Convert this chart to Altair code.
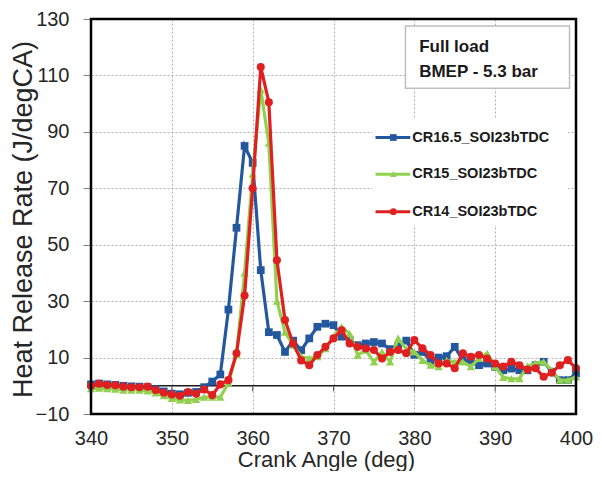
import altair as alt
import pandas as pd

# ---------------- data ----------------
crank_angle = list(range(340, 401))

cr165 = [0.5, 0.8, 0.5, 0.3, 0.0, -0.2, -0.3, -0.5, -1.2, -2.0,
         -2.8, -3.0, -2.5, -2.2, -0.5, 1.5, 4.0, 27.0, 56.0, 85.0,
         79.0, 41.0, 19.0, 18.0, 12.0, 16.0, 12.6, 16.8, 20.9, 22.0,
         21.5, 17.4, 16.2, 14.4, 15.0, 15.5, 15.0, 13.0, 14.0, 16.0,
         11.0, 12.0, 9.0, 10.0, 10.5, 13.8, 9.0, 8.5, 7.3, 7.9,
         6.7, 5.5, 6.1, 5.5, 5.5, 7.3, 8.5, 5.0, 2.0, 2.0, 4.4]

cr15 = [-1.0, -0.8, -1.0, -1.2, -1.5, -1.5, -1.5, -1.8, -2.5, -3.5,
        -4.5, -5.0, -5.2, -4.8, -4.0, -4.0, -4.0, 1.0, 11.0, 40.0,
        75.0, 105.0, 86.0, 30.0, 19.0, 14.4, 10.3, 9.7, 10.3, 13.2,
        17.3, 20.9, 18.5, 10.9, 12.6, 8.5, 12.0, 8.5, 16.8, 13.0,
        12.0, 9.0, 7.3, 6.8, 9.0, 8.5, 8.5, 6.8, 9.7, 11.5,
        6.8, 3.0, 2.5, 2.5, 7.0, 8.0, 8.5, 5.5, 2.0, 2.0, 3.2]

cr14 = [0.0, 0.7, 0.3, 0.2, -0.3, -0.5, -0.5, -0.3, -1.5, -2.5,
        -3.1, -3.5, -2.2, -2.8, -1.3, -3.3, 0.5, 2.0, 11.5, 32.0,
        70.0, 113.0, 100.5, 44.5, 23.3, 15.0, 9.0, 7.3, 10.9, 13.8,
        16.8, 19.7, 15.0, 13.8, 13.2, 12.7, 9.7, 12.0, 12.7, 11.5,
        16.2, 13.3, 10.9, 7.9, 7.9, 6.2, 11.5, 10.3, 10.9, 9.7,
        7.9, 6.8, 8.5, 7.3, 5.8, 6.2, 3.2, 4.6, 7.3, 9.1, 6.2]

series_names = ["CR16.5_SOI23bTDC", "CR15_SOI23bTDC", "CR14_SOI23bTDC"]
series_values = [cr165, cr15, cr14]
series_colors = ["#24589E", "#92D050", "#E02020"]
series_shapes = ["square", "triangle-up", "circle"]
series_sizes = [60, 70, 65]

x_ticks = [340, 350, 360, 370, 380, 390, 400]
y_ticks = [-10, 10, 30, 50, 70, 90, 110, 130]
note_lines = ["Full load", "BMEP - 5.3 bar"]

FONT = "Liberation Sans"
TXT = "#262626"

x_scale = alt.Scale(domain=[340, 400], nice=False, zero=False)
y_scale = alt.Scale(domain=[-10, 130], nice=False, zero=False)

y_axis = alt.Axis(
    values=y_ticks, title="Heat Release Rate (J/degCA)",
    titleFont=FONT, titleFontSize=27, titleFontWeight="normal", titleColor=TXT,
    titleAngle=-90, titleX=-68, titleY=200, titleAlign="center", titleBaseline="middle",
    labelFont=FONT, labelFontSize=20, labelColor=TXT, labelPadding=14,
    tickSize=8, tickColor="#7f7f7f", tickWidth=1, domain=False,
    grid=True, gridColor="#b0b0b0", gridDash=[2, 2], gridWidth=1,
    labelOverlap=False, format="d")

x_axis = alt.Axis(
    values=x_ticks, title="Crank Angle (deg)",
    titleFont=FONT, titleFontSize=22, titleFontWeight="normal", titleColor=TXT,
    titleX=235, titleY=52, titleAlign="center", titleBaseline="alphabetic",
    labelFont=FONT, labelFontSize=20, labelColor=TXT, labelPadding=14,
    labelFlush=False, labelOverlap=False,
    ticks=False, domain=False,
    grid=True, gridColor="#b0b0b0", gridDash=[2, 2], gridWidth=1, format="d")


def X(f):
    return alt.X(f, type="quantitative", scale=x_scale, axis=x_axis)


def Y(f):
    return alt.Y(f, type="quantitative", scale=y_scale, axis=y_axis)


layers = []

# zero line (Excel-style axis crossing at 0)
zero_df = pd.DataFrame({"x0": [340], "x1": [400], "y0": [0]})
layers.append(alt.Chart(zero_df).mark_rule(color="#1a1a1a", strokeWidth=1.5).encode(
    x=X("x0"), x2="x1", y=Y("y0")))

# tick marks hanging below the zero line
tick_df = pd.DataFrame({"ca": x_ticks[1:-1], "t0": [0] * 5, "t1": [-2] * 5})
layers.append(alt.Chart(tick_df).mark_rule(color="#555555", strokeWidth=1).encode(
    x=X("ca"), y=Y("t0"), y2="t1"))

# series
for name, vals, color, shape, size in zip(series_names, series_values,
                                           series_colors, series_shapes, series_sizes):
    d = pd.DataFrame({"ca": crank_angle, "v": vals})
    base = alt.Chart(d).encode(x=X("ca"), y=Y("v"))
    layers.append(base.mark_line(color=color, strokeWidth=3.2))
    layers.append(base.mark_point(shape=shape, filled=True, color=color,
                                  size=size, opacity=1, strokeWidth=0))

# note box
box_df = pd.DataFrame({"x0": [378.9], "x1": [399.2], "y0": [105.5], "y1": [127.5]})
layers.append(alt.Chart(box_df).mark_rect(fill="white", stroke="#bfbfbf", strokeWidth=1.5).encode(
    x=X("x0"), x2="x1", y=Y("y0"), y2="y1"))
note_df = pd.DataFrame({"t": note_lines, "xx": [380.6, 380.6], "yy": [118.3, 109.4]})
layers.append(alt.Chart(note_df).mark_text(
    font=FONT, fontSize=17, fontWeight="bold", color="#1a1a1a",
    align="left", baseline="alphabetic").encode(x=X("xx"), y=Y("yy"), text="t:N"))

# legend
lbg_df = pd.DataFrame({"x0": [374.8], "x1": [399.0], "y0": [57.0], "y1": [94.9]})
layers.append(alt.Chart(lbg_df).mark_rect(fill="white").encode(
    x=X("x0"), x2="x1", y=Y("y0"), y2="y1"))
legend_rows = [88.0, 75.0, 61.7]
for name, color, shape, ly in zip(series_names, series_colors, series_shapes, legend_rows):
    ld = pd.DataFrame({"name": [name], "ly": [ly], "lx0": [375.2], "lx1": [379.5],
                       "mx": [377.4], "tx": [379.75]})
    lb = alt.Chart(ld)
    layers.append(lb.mark_rule(color=color, strokeWidth=3).encode(
        x=X("lx0"), x2="lx1", y=Y("ly")))
    layers.append(lb.mark_point(shape=shape, filled=True, color=color, size=45,
                                opacity=1, strokeWidth=0).encode(x=X("mx"), y=Y("ly")))
    layers.append(lb.mark_text(font=FONT, fontSize=14.5, fontWeight="bold",
                               color="#1a1a1a", align="left", baseline="middle").encode(
        x=X("tx"), y=Y("ly"), text="name:N"))

# frame
fr_df = pd.DataFrame({"x0": [340], "x1": [400], "y0": [-10], "y1": [130]})
layers.append(alt.Chart(fr_df).mark_rect(
    fill="transparent", stroke="black", strokeWidth=2.5).encode(
    x=X("x0"), x2="x1", y=Y("y0"), y2="y1"))

chart = alt.layer(*layers).properties(
    width=485, height=395,
    autosize=alt.AutoSizeParams(type="none"),
    padding={"left": 83, "top": 11, "right": 18, "bottom": 57},
    background="white",
).configure_view(stroke=None)

chart.save("out.html", embed_options={"renderer": "svg", "actions": False})
